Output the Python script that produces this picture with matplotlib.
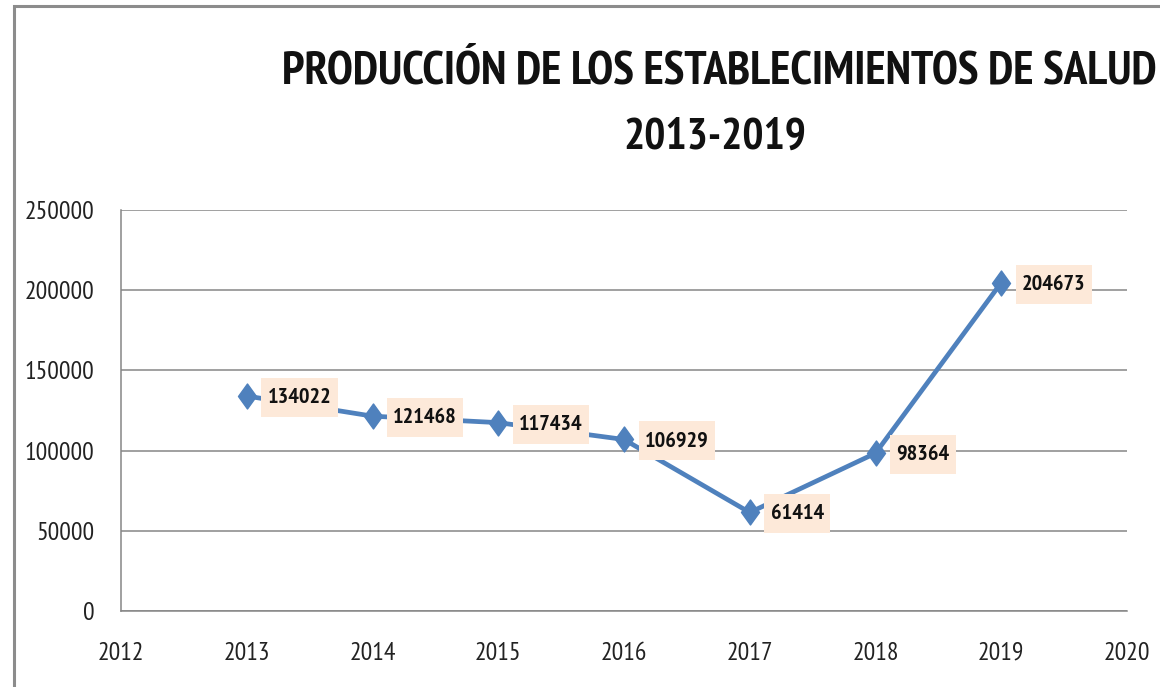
import matplotlib
matplotlib.use("Agg")
import matplotlib.pyplot as plt
from matplotlib.path import Path
from matplotlib.patches import Rectangle
from matplotlib import font_manager

years = [2013, 2014, 2015, 2016, 2017, 2018, 2019]
values = [134022, 121468, 117434, 106929, 61414, 98364, 204673]
x_ticks = [2012, 2013, 2014, 2015, 2016, 2017, 2018, 2019, 2020]
y_ticks = [0, 50000, 100000, 150000, 200000, 250000]
title_line1 = "PRODUCCIÓN DE LOS ESTABLECIMIENTOS DE SALUD"
title_line2 = "2013-2019"

names = {f.name for f in font_manager.fontManager.ttflist}
for cand in ["PT Sans Narrow", "Fira Sans Condensed", "IBM Plex Sans Condensed", "Carlito"]:
    if cand in names:
        FONT = cand
        break
else:
    FONT = "DejaVu Sans"
plt.rcParams["font.family"] = [FONT, "DejaVu Sans"]

LINE = "#4F81BD"
GRID = "#868686"
BOXC = "#FDE9D9"

W, H = 1160, 687
fig = plt.figure(figsize=(W / 100, H / 100), dpi=100)
ax = fig.add_axes([121 / W, 76 / H, 1006 / W, 401 / H])

# chart border (extends past the right and bottom edges)
fig.patches.append(Rectangle((14 / W, -0.05), 1.2, (H - 6) / H + 0.05,
                             transform=fig.transFigure, fill=False,
                             edgecolor="#8C8C8C", linewidth=2.2))

# tall diamond marker (reference marker is taller than wide)
diamond = Path([(0, 1), (0.72, 0), (0, -1), (-0.72, 0), (0, 1)], closed=True)

ax.plot(years, values, color=LINE, linewidth=3.4, marker=diamond, markersize=18,
        markerfacecolor=LINE, markeredgecolor=LINE, zorder=3)

ax.set_xlim(2012, 2020)
ax.set_ylim(0, 250000)
ax.set_xticks(x_ticks)
ax.set_yticks(y_ticks)
ax.tick_params(axis="both", length=0, labelsize=18.5, colors="#222222")
ax.tick_params(axis="y", pad=19)
ax.tick_params(axis="x", pad=22)
ax.yaxis.grid(True, color=GRID, linewidth=1.1)
ax.set_axisbelow(True)
for s in ["top", "right"]:
    ax.spines[s].set_visible(False)
for s in ["left", "bottom"]:
    ax.spines[s].set_color(GRID)
    ax.spines[s].set_linewidth(1.1)


def label_box(x0, y0, width, height, mutation_size):
    padx = 0.28 * mutation_size
    pady = 0.45 * mutation_size
    x0 -= padx
    y0 -= pady
    x1 = x0 + width + 2 * padx
    y1 = y0 + height + 2 * pady
    return Path([(x0, y0), (x1, y0), (x1, y1), (x0, y1), (x0, y0)], closed=True)


for x, v in zip(years, values):
    ax.annotate(str(v), (x, v), xytext=(15, -1), textcoords="offset points",
                ha="left", va="center", fontsize=16, fontweight="bold",
                color="#111111", zorder=4,
                bbox=dict(boxstyle=label_box, facecolor=BOXC, edgecolor="none"))

t1 = fig.text(719 / W, 1 - 71 / H, title_line1, ha="center", va="center",
              fontsize=35, fontweight="bold", color="#111111")
t2 = fig.text(715 / W, 1 - 138 / H, title_line2, ha="center", va="center",
              fontsize=32, fontweight="bold", color="#111111")

# keep the first title line inside the canvas (reference clips it slightly)
fig.canvas.draw()
r = fig.canvas.get_renderer()
bb = t1.get_window_extent(r)
max_w = 2 * (W - 4 - 719)
if bb.width > max_w:
    t1.set_fontsize(35 * max_w / bb.width)

fig.savefig("out.png", dpi=100)
